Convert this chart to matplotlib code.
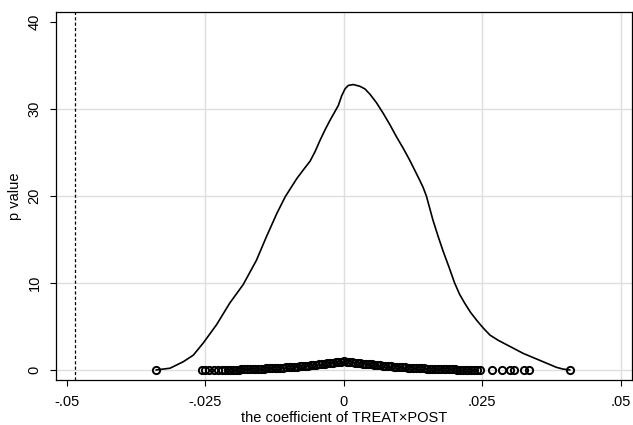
import numpy as np
import matplotlib.pyplot as plt

plt.rcParams['font.family'] = ['Liberation Sans', 'DejaVu Sans']

# kernel density of the placebo coefficients
dens_x = [-0.0339, -0.0314, -0.0290, -0.0272, -0.0254, -0.0230, -0.0206, -0.0182,
          -0.0158, -0.0140, -0.0121, -0.0106, -0.0085, -0.0072, -0.0061, -0.0052,
          -0.0043, -0.0034, -0.0025, -0.0017, -0.0010, -0.0004, 0.0002, 0.0008,
          0.0017, 0.0029, 0.0038, 0.0047, 0.0059, 0.0071, 0.0083, 0.0095,
          0.0107, 0.0119, 0.0130, 0.0137, 0.0143, 0.0149, 0.0161, 0.0170,
          0.0179, 0.0190, 0.0200, 0.0209, 0.0218, 0.0229, 0.0240, 0.0252,
          0.0264, 0.0279, 0.0294, 0.0309, 0.0324, 0.0339, 0.0354, 0.0369,
          0.0384, 0.0396, 0.0408]
dens_y = [0.0, 0.2, 0.95, 1.7, 3.1, 5.2, 7.7, 9.8,
          12.6, 15.3, 18.0, 19.9, 22.0, 23.1, 24.0, 25.1,
          26.4, 27.6, 28.7, 29.6, 30.4, 31.5, 32.3, 32.7,
          32.8, 32.6, 32.3, 31.7, 30.7, 29.5, 28.2, 26.8,
          25.5, 24.1, 22.7, 21.8, 21.0, 20.0, 17.2, 15.4,
          13.7, 11.8, 10.0, 8.7, 7.7, 6.6, 5.7, 4.8,
          4.0, 3.4, 2.9, 2.4, 1.9, 1.5, 1.1, 0.7,
          0.3, 0.1, 0.0]

# placebo coefficients and their p values
coef = [-0.0339, -0.0257, -0.0250, -0.0243, -0.0234, -0.0227, -0.0220,
        -0.0215, -0.0210, -0.0205, -0.0200, -0.0195, -0.0190, -0.0185, -0.0180,
        -0.0175, -0.0170, -0.0165, -0.0160, -0.0155, -0.0150, -0.0145, -0.0140,
        -0.0135, -0.0130, -0.0125, -0.0120, -0.0115, -0.0110, -0.0105, -0.0100,
        -0.0095, -0.0090, -0.0085, -0.0080, -0.0075, -0.0070, -0.0065, -0.0060,
        -0.0055, -0.0050, -0.0045, -0.0040, -0.0035, -0.0030, -0.0025, -0.0020,
        -0.0015, -0.0010, -0.0005, 0.0000,
        0.0005, 0.0010, 0.0015, 0.0020, 0.0025, 0.0030, 0.0035, 0.0040,
        0.0045, 0.0050, 0.0055, 0.0060, 0.0065, 0.0070, 0.0075, 0.0080,
        0.0085, 0.0090, 0.0095, 0.0100, 0.0105, 0.0110, 0.0115, 0.0120,
        0.0125, 0.0130, 0.0135, 0.0140, 0.0145, 0.0150, 0.0155, 0.0160,
        0.0165, 0.0170, 0.0175, 0.0180, 0.0185, 0.0190, 0.0195, 0.0200,
        0.0205, 0.0210, 0.0215, 0.0220, 0.0225, 0.0230, 0.0235, 0.0240,
        0.0245, 0.0267, 0.0285, 0.0300, 0.0307, 0.0325, 0.0334, 0.0408]
pval = [0.00, 0.00, 0.00, 0.01, 0.01, 0.01, 0.01,
        0.02, 0.03, 0.03, 0.04, 0.04, 0.05, 0.06, 0.07,
        0.08, 0.09, 0.10, 0.11, 0.12, 0.14, 0.15, 0.17,
        0.18, 0.20, 0.22, 0.24, 0.26, 0.27, 0.29, 0.31,
        0.34, 0.36, 0.39, 0.42, 0.45, 0.48, 0.51, 0.54,
        0.58, 0.61, 0.64, 0.68, 0.72, 0.75, 0.79, 0.83,
        0.87, 0.91, 0.95, 0.99,
        0.97, 0.93, 0.89, 0.85, 0.81, 0.77, 0.73, 0.70,
        0.66, 0.63, 0.59, 0.56, 0.53, 0.50, 0.47, 0.44,
        0.41, 0.39, 0.36, 0.34, 0.32, 0.30, 0.28, 0.26,
        0.24, 0.22, 0.21, 0.19, 0.18, 0.16, 0.15, 0.14,
        0.12, 0.11, 0.10, 0.09, 0.08, 0.07, 0.06, 0.06,
        0.05, 0.04, 0.04, 0.03, 0.03, 0.02, 0.02, 0.01,
        0.01, 0.01, 0.00, 0.00, 0.00, 0.00, 0.00, 0.00]

true_coef = -0.0486

xticks = [-0.05, -0.025, 0, 0.025, 0.05]
xlabels = ['-.05', '-.025', '0', '.025', '.05']
yticks = [0, 10, 20, 30, 40]
xgrid = [-0.025, 0, 0.025, 0.05]
ygrid = [0, 10, 20, 30]

fig = plt.figure(figsize=(6.33, 4.25), dpi=100)
ax = fig.add_axes([0.0885, 0.106, 0.9095, 0.866])

for g in xgrid:
    ax.axvline(g, color='#dedede', lw=1.0, zorder=0)
for g in ygrid:
    ax.axhline(g, color='#dedede', lw=1.0, zorder=0)

ax.plot(dens_x, dens_y, color='black', lw=1.2, zorder=2)
ax.plot(coef, pval, 'o', ms=5.2, mfc='none', mec='black', mew=1.4, zorder=3)
ax.axvline(true_coef, color='black', lw=0.9, ls=(0, (2.5, 1.8)), zorder=2)

ax.set_xlim(-0.052, 0.052)
ax.set_ylim(-1.15, 41.15)
ax.set_xticks(xticks)
ax.set_xticklabels(xlabels)
ax.set_yticks(yticks)
ax.tick_params(axis='both', direction='out', length=4.5, width=0.8,
               labelsize=10.5, pad=6)
for lab in ax.get_yticklabels():
    lab.set_rotation(90)
    lab.set_va('center')

for s in ax.spines.values():
    s.set_color('black')
    s.set_linewidth(0.9)

ax.set_xlabel('the coefficient of TREAT×POST', fontsize=10.5, labelpad=2)
ax.set_ylabel('p value', fontsize=10.5, labelpad=4)

fig.savefig('out.png', dpi=100)
